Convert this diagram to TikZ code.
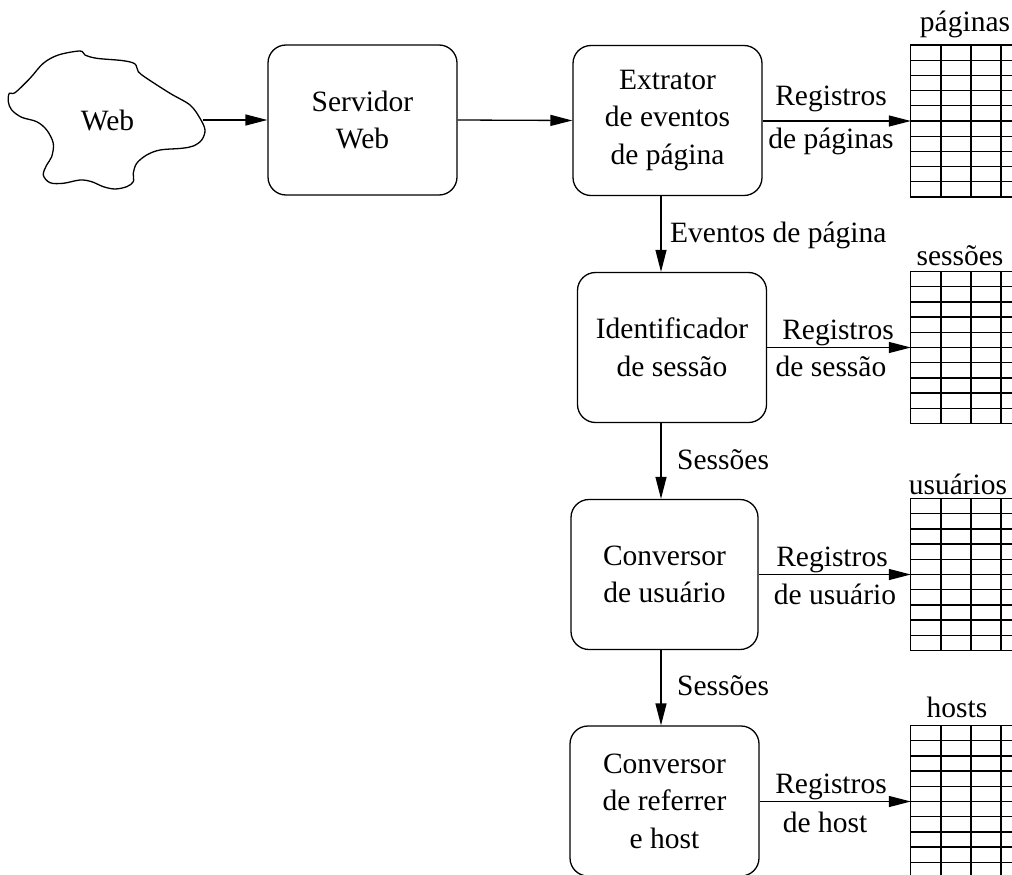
\documentclass[tikz,border=0pt]{standalone}
\usepackage{fontspec}
\setmainfont{Liberation Serif}
\usetikzlibrary{arrows.meta,calc}
\begin{document}
\begin{tikzpicture}[x=1pt,y=-1pt,
  every node/.style={font=\fontsize{29.5}{37.5}\selectfont},
  proc/.style={draw, line width=1.3pt, rounded corners=18pt, align=center,
    inner sep=0pt, minimum width=189pt, minimum height=150pt},
  tbl/.style={inner sep=0pt, minimum width=120pt, minimum height=151.5pt},
  grid line/.style={line width=1.3pt},
  arr/.style={line width=1.3pt, -{Triangle[length=22pt,width=11pt]}},
  lbl/.style={anchor=base, inner sep=0pt},
  lblw/.style={anchor=base west, inner sep=0pt}]
\useasboundingbox (0,0) rectangle (1012,875);

% the Web cloud
\draw[line width=1.3pt] plot[smooth cycle, tension=0.55] coordinates {
  (9.3,93.3) (15,92.7) (30,78.3) (43.3,63.3) (58.3,55) (80,51) (85,55)
  (96.7,58.3) (123.3,60.7) (135,64) (138.3,71.7) (146.7,78.3) (170,93.3)
  (190,105) (200,118.3) (205,130) (201.7,140) (193.3,146) (181.7,148.3)
  (160,150) (146.7,155) (136.7,163.3) (133.3,173.3) (133.3,181.7)
  (126.7,186.7) (115,189) (103.3,186.7) (91.7,181.7) (80,180) (63.3,183.3)
  (50,182.7) (43.3,175) (46.7,165) (51.7,156.7) (53.3,143.3) (46.7,130)
  (36.7,121.7) (21.7,117.3) (11.7,110) (8.3,101.7)};
\node[lbl] (web) at (107.5,130) {Web};
\coordinate (webE) at (203,120);

% processing stages
\node[proc] (srv) at (362.5,120) {Servidor\\Web};
\node[proc] (ext) at (667.5,120.5) {Extrator\\de eventos\\de página};
\node[proc] (idf) at (672,347.5) {Identificador\\de sessão};
\node[proc, minimum width=187pt] (cvu) at (664.5,574.5) {Conversor\\de usuário};
\node[proc] (cvr) at (664.5,801) {Conversor\\de referrer\\e host};

% tables
\node[tbl] (t1) at (971,121) {};
\node[tbl] (t2) at (971,347.5) {};
\node[tbl] (t3) at (971,574.5) {};
\node[tbl] (t4) at (971,801.5) {};
\foreach \t in {t1,t2,t3,t4} {
  \draw[grid line] (\t.north west) rectangle (\t.south east);
  \foreach \i in {1,...,9}
    \draw[grid line] ($(\t.north west)!\i/10!(\t.south west)$) -- ($(\t.north east)!\i/10!(\t.south east)$);
  \foreach \f in {0.25,0.5,0.75}
    \draw[grid line] ($(\t.north west)!\f!(\t.north east)$) -- ($(\t.south west)!\f!(\t.south east)$);
}
\node[lbl] (t1l) at (965,32) {páginas};
\node[lbl] (t2l) at (960,265) {sessões};
\node[lbl] (t3l) at (958,494) {usuários};
\node[lbl] (t4l) at (957,717) {hosts};

% flow along the top
\draw[arr] (webE) -- (srv.west);
\draw[arr] (srv.east) -- (ext.west);

% flow down the pipeline
\coordinate (vx) at (661,0);
\draw[arr] (ext.south -| vx) -- (idf.north -| vx);
\draw[arr] (idf.south -| vx) -- (cvu.north -| vx);
\draw[arr] (cvu.south -| vx) -- (cvr.north -| vx);
\node[lblw] (e1) at (670,242) {Eventos de página};
\node[lblw] (e2) at (677,469) {Sessões};
\node[lblw] (e3) at (677,695) {Sessões};

% records written to the tables
\draw[arr] (ext.east |- t1.west) -- (t1.west);
\draw[arr] (idf.east |- t2.west) -- (t2.west);
\draw[arr] (cvu.east |- t3.west) -- (t3.west);
\draw[arr] (cvr.east |- t4.west) -- (t4.west);
\node[lbl] (r1a) at (831,105) {Registros};
\node[lbl] (r1b) at (831,148) {de páginas};
\node[lbl] (r2a) at (838,339) {Registros};
\node[lbl] (r2b) at (831,376) {de sessão};
\node[lbl] (r3a) at (832,566) {Registros};
\node[lbl] (r3b) at (835,604) {de usuário};
\node[lbl] (r4a) at (831,793) {Registros};
\node[lbl] (r4b) at (825,832) {de host};
\end{tikzpicture}
\end{document}
